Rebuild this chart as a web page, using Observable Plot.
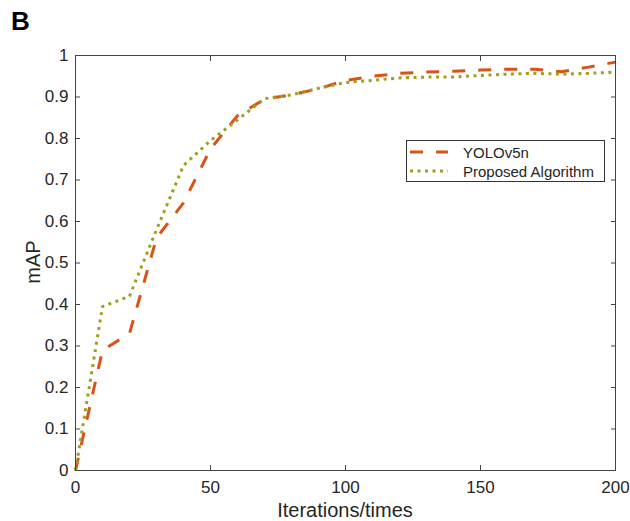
<!DOCTYPE html>
<html><head><meta charset="utf-8">
<script src="https://cdn.jsdelivr.net/npm/d3@7"></script>
<script src="https://cdn.jsdelivr.net/npm/@observablehq/plot@0.6"></script>
<style>
body{margin:0;background:#fff;font-family:"Liberation Sans",Arial,sans-serif;color:#262626;}
#wrap{position:relative;width:630px;height:521px;overflow:hidden;}
.ov{position:absolute;white-space:nowrap;}
#panel{left:11px;top:6px;font-size:26px;font-weight:bold;color:#000;}
#ylab{left:33px;top:262px;font-size:20px;transform:translate(-50%,-50%) rotate(-90deg);}
#xlab{left:345px;top:510px;font-size:20px;transform:translate(-50%,-50%);}
#legend{left:406px;top:140px;width:197px;height:40px;border:1px solid #333;background:#fff;font-size:15px;}
.lrow{position:absolute;left:0;height:20px;display:flex;align-items:center;}
.lrow svg{margin-left:3px;margin-right:15px;}
</style></head><body><div id="wrap"></div>
<script>
const iterations = [0,10,20,30,40,50,60,70,80,90,100,110,120,130,140,150,160,170,180,190,200];
const yolo =     [0,0.29,0.33,0.56,0.645,0.775,0.855,0.895,0.905,0.92,0.94,0.95,0.957,0.96,0.962,0.965,0.967,0.967,0.961,0.972,0.984];
const proposed = [0,0.395,0.42,0.58,0.735,0.795,0.845,0.896,0.905,0.921,0.935,0.94,0.946,0.948,0.948,0.952,0.955,0.957,0.955,0.957,0.96];
const seriesNames = ["YOLOv5n","Proposed Algorithm"];
const seriesColors = ["#D95319","#9EA01D"];
const seriesDash = ["13,13","3,4.5"];
const xTicks = [0,50,100,150,200];
const yTicks = [0,0.1,0.2,0.3,0.4,0.5,0.6,0.7,0.8,0.9,1];
const xTitle = "Iterations/times";
const yTitle = "mAP";
const panelLabel = "B";

const yoloRows = iterations.map((it,i)=>({it, v: yolo[i]}));
const propRows = iterations.map((it,i)=>({it, v: proposed[i]}));
const fmt = d => String(+d.toFixed(1));

const chart = Plot.plot({
  width: 630, height: 521,
  marginLeft: 75, marginRight: 15, marginTop: 55, marginBottom: 51,
  style: {fontFamily: "Liberation Sans, Arial, sans-serif", fontSize: "17px", color: "#262626", background: "white", overflow: "visible"},
  x: {domain: [0,200]},
  y: {domain: [0,1]},
  marks: [
    Plot.axisX({ticks: xTicks, tickSize: -5, tickPadding: 15, label: null, stroke: "#444"}),
    Plot.axisX({anchor: "top", ticks: xTicks, tickSize: -5, tickFormat: () => "", label: null, stroke: "#444"}),
    Plot.axisY({ticks: yTicks, tickSize: -5, tickPadding: 12, tickFormat: fmt, label: null, stroke: "#444"}),
    Plot.axisY({anchor: "right", ticks: yTicks, tickSize: -5, tickFormat: () => "", label: null, stroke: "#444"}),
    Plot.line(yoloRows, {x: "it", y: "v", stroke: seriesColors[0], strokeWidth: 3, strokeDasharray: seriesDash[0], strokeLinecap: "butt", strokeLinejoin: "miter"}),
    Plot.line(propRows, {x: "it", y: "v", stroke: seriesColors[1], strokeWidth: 3, strokeDasharray: seriesDash[1], strokeLinecap: "butt", strokeLinejoin: "miter"}),
    Plot.frame({stroke: "#444", strokeWidth: 1})
  ]
});
const wrap = document.getElementById("wrap");
wrap.appendChild(chart);

function ov(id, text){ const d=document.createElement("div"); d.className="ov"; d.id=id; d.textContent=text; wrap.appendChild(d); return d; }
ov("panel", panelLabel);
ov("ylab", yTitle);
ov("xlab", xTitle);
const leg = document.createElement("div"); leg.className="ov"; leg.id="legend";
seriesNames.forEach((name,i)=>{
  const r = document.createElement("div"); r.className="lrow"; r.style.top = (1 + i*19) + "px";
  r.innerHTML = `<svg width="38" height="6"><line x1="0" y1="3" x2="38" y2="3" stroke="${seriesColors[i]}" stroke-width="3" stroke-dasharray="${seriesDash[i]}"/></svg><span>${name}</span>`;
  leg.appendChild(r);
});
wrap.appendChild(leg);
</script></body></html>
